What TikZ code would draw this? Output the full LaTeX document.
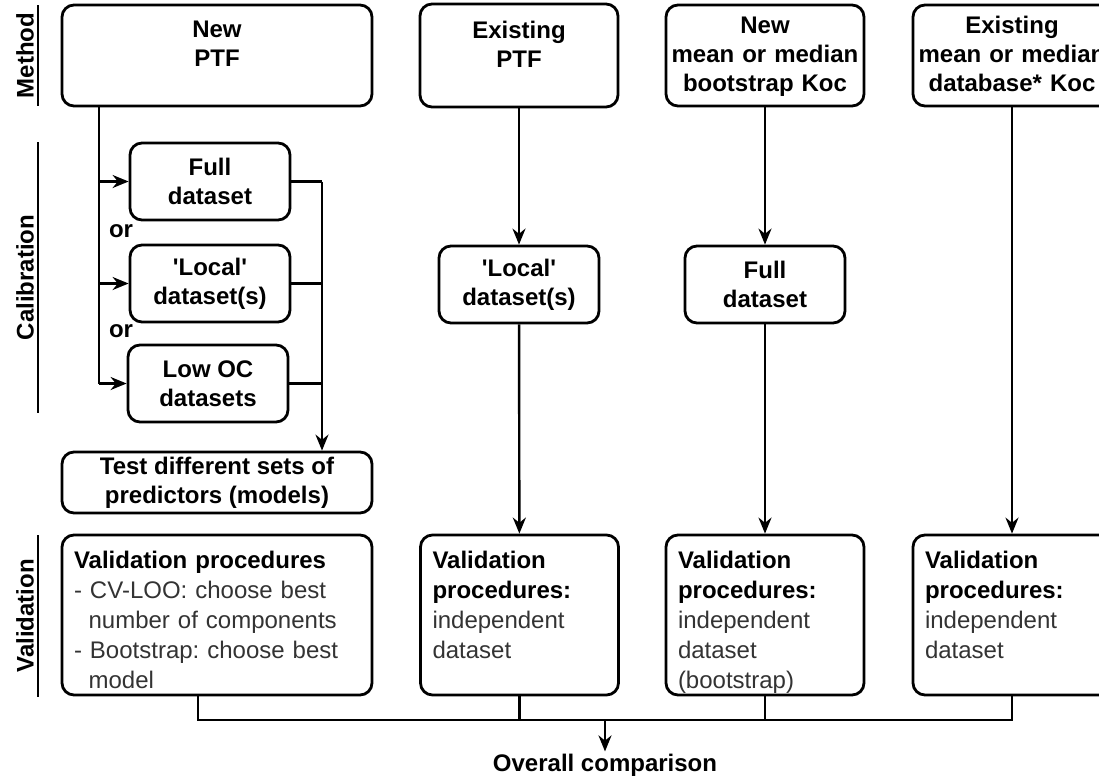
\documentclass[tikz,border=0pt]{standalone}
\usepackage{fontspec}
\setmainfont{Liberation Sans}
\usetikzlibrary{arrows.meta}

\begin{document}
\begin{tikzpicture}[
  x=0.5pt, y=-0.5pt,
  font=\fontsize{12}{14.6}\selectfont,
  box/.style = {draw, line width=1.4pt, rounded corners=6pt, align=center, inner sep=0pt, font=\fontsize{12}{14.6}\selectfont\bfseries},
  topbox/.style = {box, text width=#1, text height=16pt, text depth=34.5pt},
  threeline/.style = {text height=14pt, text depth=36.5pt},
  calbox/.style = {box, minimum width=80pt, minimum height=38.5pt},
  valbox/.style = {box, align=left, text width=#1, inner xsep=6pt, text height=16.5pt, text depth=63.5pt, font=\fontsize{12}{15}\selectfont\frenchspacing\color{black!80}},
  phase/.style = {rotate=90, font=\fontsize{12}{14}\selectfont\bfseries},
  line/.style = {line width=1.2pt},
  arrow/.style = {line width=1.2pt, -{Stealth[length=8pt, width=6.5pt]}}
]
  \useasboundingbox (0,0) rectangle (1099,777);

  % Phases
  \node[phase] (lmethod) at (25,55.5) {Method};
  \node[phase] (lcalib) at (25,277.5) {Calibration};
  \node[phase] (lvalid) at (25,616) {Validation};
  \draw[line] (38,5) -- (38,106);
  \draw[line] (38,142) -- (38,413);
  \draw[line] (38,535) -- (38,697);

  % Methods
  \node[topbox=155pt] (newptf) at (217,55.5) {New\\PTF};
  \node[topbox=99pt, text height=17pt] (exptf) at (519,55.5) {Existing\\PTF};
  \node[topbox=99pt, threeline] (newkoc) at (765,55.5) {New\\mean or median\\bootstrap Koc};
  \node[topbox=99pt, threeline] (exkoc) at (1012,55.5) {Existing\\mean or median\\database* Koc};

  % Calibration
  \node[calbox] (newfull) at (210,181.5) {Full\\dataset};
  \node (or1) at (121,231) {\bfseries or};
  \node[calbox] (newlocal) at (210,283.5) {\textquotesingle Local\textquotesingle\\dataset(s)};
  \node (or2) at (121,331) {\bfseries or};
  \node[calbox] (lowoc) at (208,383.5) {Low OC\\datasets};
  \node[box, minimum width=155pt, minimum height=30.5pt] (testsets) at (217,482.5) {Test different sets of\\predictors (models)};
  \node[calbox] (exlocal) at (519,284.5) {\textquotesingle Local\textquotesingle\\dataset(s)};
  \node[calbox] (newfullb) at (765,284.5) {Full\\dataset};

  % Validation
  \node[valbox=143pt] (newval) at (217,615) {\textbf{\color{black}Validation procedures}\\
    - CV-LOO: choose best\\\hspace*{7.3pt}number of components\\
    - Bootstrap: choose best\\\hspace*{7.3pt}model};
  \node[valbox=87pt] (exval) at (519.5,615) {\textbf{\color{black}Validation}\\\textbf{\color{black}procedures:}\\independent\\dataset};
  \node[valbox=87pt] (newkocval) at (765,615) {\textbf{\color{black}Validation}\\\textbf{\color{black}procedures:}\\independent\\dataset\\(bootstrap)};
  \node[valbox=87pt] (exkocval) at (1012,615) {\textbf{\color{black}Validation}\\\textbf{\color{black}procedures:}\\independent\\dataset};

  \node[inner sep=1pt, font=\fontsize{12}{14}\selectfont\bfseries] (overall) at (605,765) {Overall comparison};

  % New PTF branches
  \coordinate (spine) at (99,0);
  \coordinate (collect) at (322,0);
  \draw[line] (newptf.south -| spine) -- (spine |- lowoc);
  \foreach \n in {newfull,newlocal,lowoc} {
    \draw[arrow] (spine |- \n) -- (\n);
    \draw[line] (\n) -- (collect |- \n);
  }
  \draw[arrow] (collect |- newfull) -- (collect |- testsets.north);

  % Other columns
  \draw[arrow] (exptf) -- (exlocal);
  \draw[arrow] (exlocal) -- (exval);
  \draw[arrow] (newkoc) -- (newfullb);
  \draw[arrow] (newfullb) -- (newkocval);
  \draw[arrow] (exkoc) -- (exkocval);

  % Comparison
  \coordinate (join) at (605,720);
  \coordinate (tap) at (198,0);
  \draw[line] (tap |- newval.south) -- (tap |- join) -- (exkocval.south |- join) -- (exkocval.south);
  \draw[line] (exval) -- (exval.south |- join);
  \draw[line] (newkocval) -- (newkocval.south |- join);
  \draw[arrow] (join) -- (overall);

\end{tikzpicture}
\end{document}
